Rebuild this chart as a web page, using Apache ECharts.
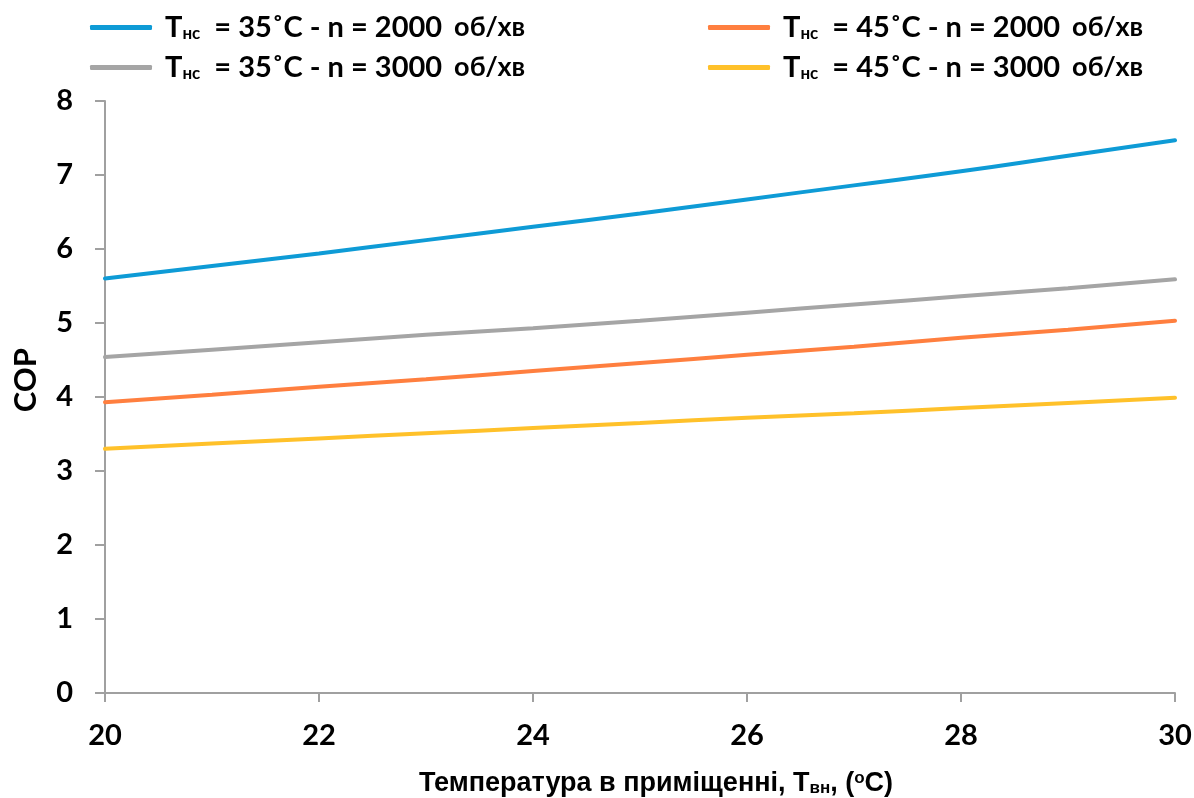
<!DOCTYPE html>
<html>
<head>
<meta charset="utf-8">
<script src="https://cdn.jsdelivr.net/npm/echarts@6/dist/echarts.min.js"></script>
<style>
  html, body { margin: 0; padding: 0; background: #fff; }
  #chart { width: 1194px; height: 798px; }
</style>
</head>
<body>
<div id="chart"></div>
<script>
// Indoor temperature, °C
const indoorTemp = [20, 21, 22, 23, 24, 25, 26, 27, 28, 29, 30];

// COP for each supply temperature / compressor speed combination
const cop35n2000 = [5.60, 5.77, 5.94, 6.12, 6.30, 6.48, 6.67, 6.86, 7.05, 7.26, 7.47];
const cop35n3000 = [4.54, 4.64, 4.74, 4.84, 4.93, 5.03, 5.14, 5.25, 5.36, 5.47, 5.59];
const cop45n2000 = [3.93, 4.03, 4.14, 4.24, 4.35, 4.46, 4.57, 4.68, 4.80, 4.91, 5.03];
const cop45n3000 = [3.30, 3.37, 3.44, 3.51, 3.58, 3.65, 3.72, 3.78, 3.85, 3.92, 3.99];

// Legend labels: supply temperature and speed
const supplyTemps = ['35', '35', '45', '45'];
const speeds = ['2000', '3000', '2000', '3000'];
const seriesNames = supplyTemps.map((t, i) => `Tнс = ${t}˚C - n = ${speeds[i]} об/хв`);

const xTicks = { min: 20, max: 30, step: 2 };
const yTicks = { min: 0, max: 8, step: 1 };

const colors = ['#0E9BD6', '#A5A5A5', '#FF7F3F', '#FFC12A'];
const seriesData = [cop35n2000, cop35n3000, cop45n2000, cop45n3000];

const mainFont = 'Lato, "Open Sans", sans-serif';
const arialFont = '"Liberation Sans", Arial, sans-serif';
const legendRich = {
  t: { fontFamily: mainFont, fontWeight: 'bold', fontSize: 29, color: '#000' },
  s: { fontFamily: mainFont, fontWeight: 'bold', fontSize: 17, color: '#000', verticalAlign: 'bottom', padding: [12, 0, 0, 0] },
  u: { fontFamily: mainFont, fontWeight: 'bold', fontSize: 27, color: '#000', padding: [0, 0, 0, 12] }
};
function legendLabel(name) {
  const i = seriesNames.indexOf(name);
  return `{t|T}{s|нс}{t|  = ${supplyTemps[i]}˚C - n = ${speeds[i]}}{u|об/хв}`;
}

const chart = echarts.init(document.getElementById('chart'), null, { renderer: 'canvas' });

const legendBase = {
  orient: 'vertical',
  icon: 'roundRect',
  itemWidth: 62,
  itemHeight: 5,
  itemGap: 11,
  selectedMode: false,
  formatter: legendLabel,
  textStyle: { rich: legendRich, padding: [0, 0, 0, 8] }
};

chart.setOption({
  animation: false,
  backgroundColor: '#ffffff',
  color: colors,
  legend: [
    Object.assign({}, legendBase, { left: 85, top: 8, data: [seriesNames[0], seriesNames[1]] }),
    Object.assign({}, legendBase, { left: 703, top: 8, data: [seriesNames[2], seriesNames[3]] })
  ],
  grid: { left: 105, right: 19, top: 101, bottom: 105, containLabel: false, outerBoundsMode: 'none' },
  graphic: [{
    type: 'text',
    left: 10,
    top: 348,
    rotation: Math.PI / 2,
    style: { text: 'COP', fontFamily: mainFont, fontWeight: 'bold', fontSize: 31, fill: '#000' }
  }],
  xAxis: {
    type: 'value',
    min: xTicks.min,
    max: xTicks.max,
    interval: xTicks.step,
    name: '{m|Температура в приміщенні, Т}{s|вн}{m|, (}{p|o}{m|C)}',
    nameLocation: 'middle',
    nameGap: 77,
    nameTextStyle: {
      padding: [0, 0, 0, 32],
      rich: {
        m: { fontFamily: arialFont, fontWeight: 'bold', fontSize: 27, color: '#000' },
        s: { fontFamily: arialFont, fontWeight: 'bold', fontSize: 17, color: '#000', verticalAlign: 'bottom', padding: [10, 0, 0, 0] },
        p: { fontFamily: arialFont, fontWeight: 'bold', fontSize: 17, color: '#000', verticalAlign: 'top', padding: [0, 0, 10, 0] }
      }
    },
    axisLine: { show: true, lineStyle: { color: '#A0A0A0', width: 2 } },
    axisTick: { show: true, length: 9, lineStyle: { color: '#A0A0A0', width: 2 } },
    axisLabel: { fontFamily: mainFont, fontWeight: 'bold', fontSize: 29, color: '#000', margin: 28 },
    splitLine: { show: false }
  },
  yAxis: {
    type: 'value',
    min: yTicks.min,
    max: yTicks.max,
    interval: yTicks.step,
    axisLine: { show: true, lineStyle: { color: '#A0A0A0', width: 2 } },
    axisTick: { show: true, length: 10, lineStyle: { color: '#A0A0A0', width: 2 } },
    axisLabel: { fontFamily: mainFont, fontWeight: 'bold', fontSize: 29, color: '#000', margin: 32 },
    splitLine: { show: false }
  },
  series: seriesData.map((vals, i) => ({
    name: seriesNames[i],
    type: 'line',
    data: vals.map((v, j) => [indoorTemp[j], v]),
    smooth: true,
    showSymbol: false,
    lineStyle: { width: 4, color: colors[i], cap: 'round' },
    itemStyle: { color: colors[i] }
  }))
});
</script>
</body>
</html>
